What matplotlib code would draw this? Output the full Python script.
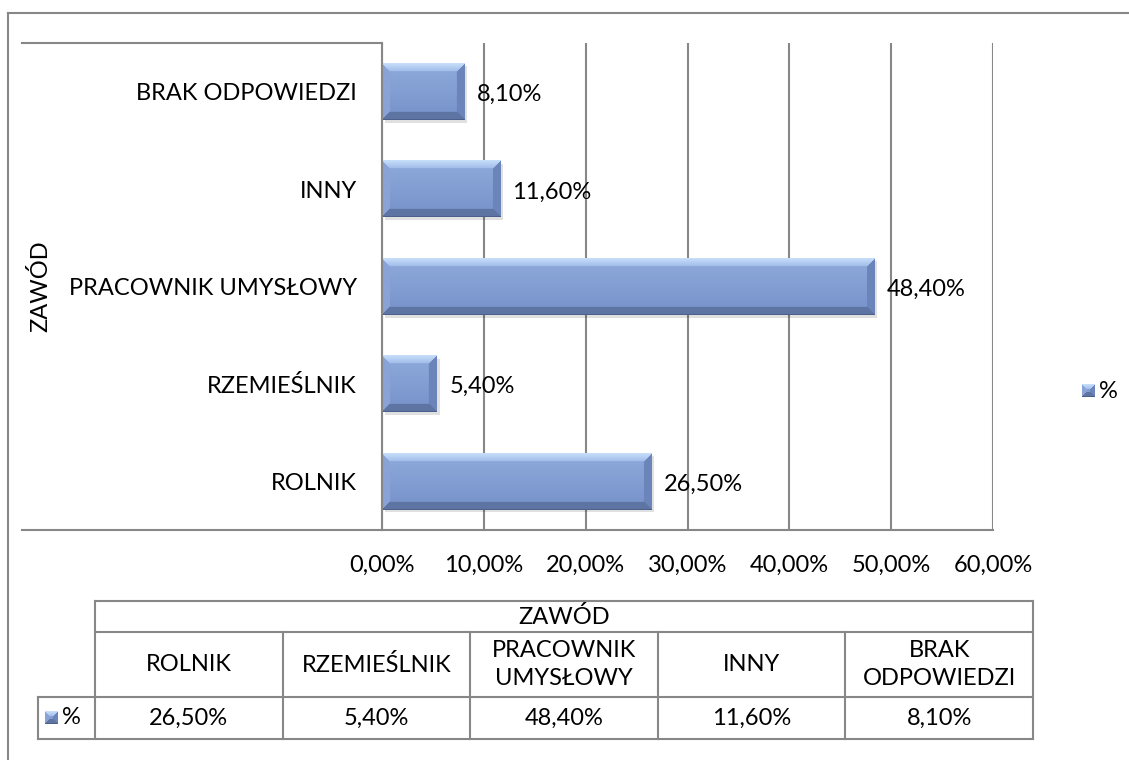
import numpy as np
import matplotlib
matplotlib.use("Agg")
import matplotlib.pyplot as plt
from matplotlib.lines import Line2D

plt.rcParams['font.family'] = ['Lato', 'DejaVu Sans']
plt.rcParams['font.size'] = 17

# data
categories = ['ROLNIK', 'RZEMIEŚLNIK', 'PRACOWNIK UMYSŁOWY', 'INNY', 'BRAK ODPOWIEDZI']
table_names = ['ROLNIK', 'RZEMIEŚLNIK', 'PRACOWNIK\nUMYSŁOWY', 'INNY', 'BRAK\nODPOWIEDZI']
values = [26.5, 5.4, 48.4, 11.6, 8.1]
x_ticks = [0, 10, 20, 30, 40, 50, 60]
axis_title = 'ZAWÓD'
series_name = '%'


def pct(v):
    return f"{v:.2f}%".replace('.', ',')


W, H = 1129, 760
GRAY = '#878787'


def fx(px):
    return px / W


def fy(py):
    return 1 - py / H


def bevel(w, h, b=8):
    # excel-ish bevelled fill
    w, h = max(int(w), 2), max(int(h), 2)
    b = min(b, w // 2, h // 2)
    yy, xx = np.mgrid[0:h, 0:w]
    t = yy / max(h - 1, 1)
    top_c = np.array([0.56, 0.67, 0.86])
    bot_c = np.array([0.46, 0.57, 0.79])
    img = top_c[None, None, :] * (1 - t[..., None]) + bot_c[None, None, :] * t[..., None]
    dt, db, dl, dr = yy, h - 1 - yy, xx, w - 1 - xx
    m = np.minimum(np.minimum(dt, db), np.minimum(dl, dr))
    img[(dl == m) & (dl < b)] = [0.54, 0.64, 0.84]
    img[(dr == m) & (dr < b)] = [0.42, 0.52, 0.73]
    img[(db == m) & (db < b)] = [0.37, 0.46, 0.64]
    tmask = (dt == m) & (dt < b)
    s = (dt / max(b, 1))[..., None]
    light = np.array([0.78, 0.87, 0.98]) * (1 - s) + np.array([0.62, 0.73, 0.91]) * s
    img[tmask] = light[tmask]
    img[db == 0] = [0.30, 0.38, 0.55]
    return img


fig = plt.figure(figsize=(W / 100, H / 100), dpi=100)

# outer chart frame
fig.add_artist(Line2D([fx(8), 1.0], [fy(13), fy(13)], color=GRAY, lw=1.5))
fig.add_artist(Line2D([fx(8), fx(8)], [fy(13), 0.0], color=GRAY, lw=1.5))

ax = fig.add_axes([fx(382), fy(530), fx(993) - fx(382), fy(43) - fy(530)])
ypos = np.arange(len(categories))

# shadow
ax.barh(ypos - 0.03, values, height=0.58, left=0.25, color='black', alpha=0.12, zorder=2)
bars = ax.barh(ypos, values, height=0.58, color='#7f9bcf', zorder=3)

ax.set_xlim(0, 60)
ax.set_ylim(-0.5, len(categories) - 0.5)
ax.set_xticks(x_ticks, [pct(v) for v in x_ticks])
ax.set_yticks(ypos, categories)
ax.tick_params(axis='y', length=0, pad=18)
ax.tick_params(axis='x', length=0, pad=18)
ax.grid(axis='x', color=GRAY, lw=1.5, zorder=0)
ax.set_axisbelow(True)
for s in ['top', 'right']:
    ax.spines[s].set_visible(False)
for s in ['left', 'bottom']:
    ax.spines[s].set_color(GRAY)
    ax.spines[s].set_linewidth(1.5)
    ax.spines[s].set_zorder(5)

fig.canvas.draw()
for bar in bars:
    bb = bar.get_window_extent()
    img = bevel(bb.width, bb.height)
    x0, y0 = bar.get_x(), bar.get_y()
    ax.imshow(img, extent=(x0, x0 + bar.get_width(), y0, y0 + bar.get_height()),
              aspect='auto', zorder=4, interpolation='bilinear')
ax.set_xlim(0, 60)
ax.set_ylim(-0.5, len(categories) - 0.5)

for y, v in zip(ypos, values):
    ax.text(v + 1.2, y - 0.03, pct(v), va='center', ha='left', zorder=6)

# category axis lines outside plot
fig.add_artist(Line2D([fx(22), fx(382)], [fy(43), fy(43)], color=GRAY, lw=1.5))
fig.add_artist(Line2D([fx(22), fx(382)], [fy(530), fy(530)], color=GRAY, lw=1.5))

fig.text(fx(40), fy(286), axis_title, rotation=90, ha='center', va='center')

# legend
lax = fig.add_axes([fx(1082), fy(397), fx(13), 13 / H])
lax.imshow(bevel(13, 13, b=5), aspect='auto', interpolation='nearest')
lax.axis('off')
fig.text(fx(1099), fy(391), series_name, ha='left', va='center')

# data table
tl, tr = 95, 1033
t_top, t_hdr, t_cat, t_bot = 601, 632, 697, 739
n = len(table_names)
cw = (tr - tl) / n
lines = [
    ([tl, tr], [t_top, t_top]),
    ([tl, tr], [t_hdr, t_hdr]),
    ([38, tr], [t_cat, t_cat]),
    ([38, tr], [t_bot, t_bot]),
    ([38, 38], [t_cat, t_bot]),
    ([tr, tr], [t_top, t_bot]),
]
for i in range(n):
    lines.append(([tl + i * cw] * 2, [t_top if i == 0 else t_hdr, t_bot]))
for xs, ys in lines:
    fig.add_artist(Line2D([fx(x) for x in xs], [fy(y) for y in ys], color=GRAY, lw=1.5))

fig.text(fx((tl + tr) / 2), fy((t_top + t_hdr) / 2), axis_title, ha='center', va='center')
for i, (name, v) in enumerate(zip(table_names, values)):
    cx = tl + (i + 0.5) * cw
    fig.text(fx(cx), fy((t_hdr + t_cat) / 2), name, ha='center', va='center', linespacing=1.45)
    fig.text(fx(cx), fy((t_cat + t_bot) / 2), pct(v), ha='center', va='center')

kax = fig.add_axes([fx(45), fy(724), fx(13), 13 / H])
kax.imshow(bevel(13, 13, b=5), aspect='auto', interpolation='nearest')
kax.axis('off')
fig.text(fx(62), fy(718), series_name, ha='left', va='center')

fig.savefig('out.png', dpi=100)
